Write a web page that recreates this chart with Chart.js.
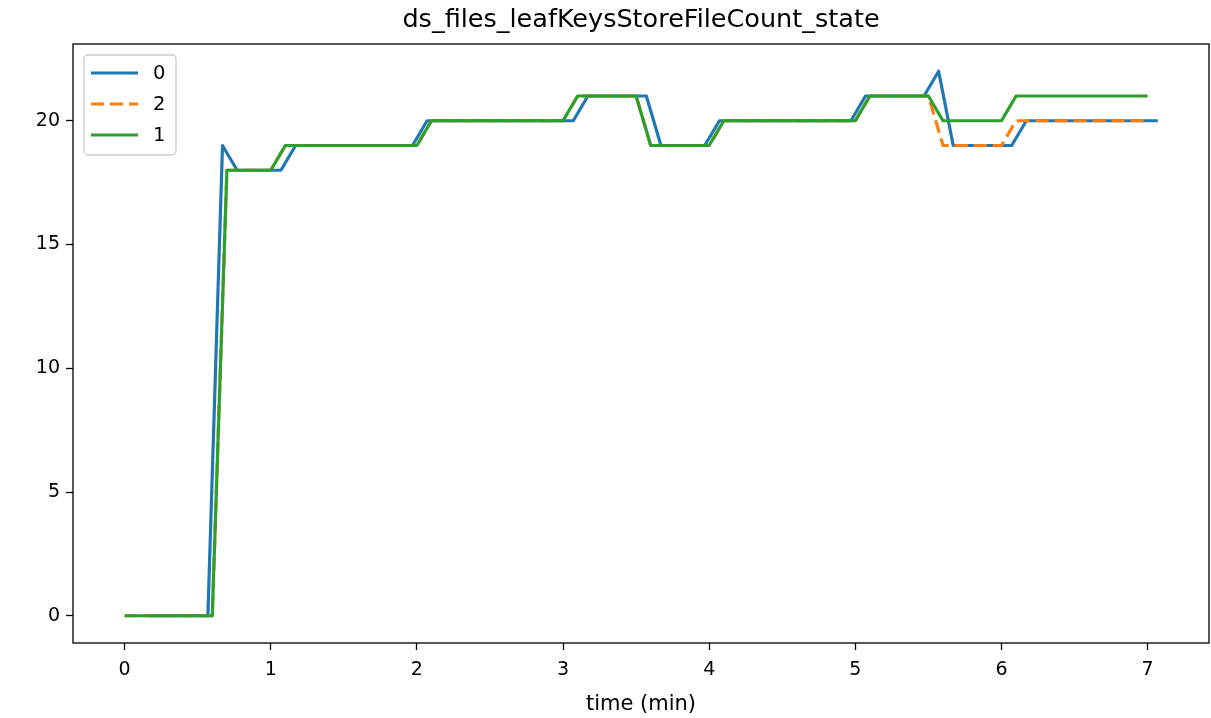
<!DOCTYPE html>
<html>
<head>
<meta charset="utf-8">
<script src="https://cdn.jsdelivr.net/npm/chart.js@4"></script>
<style>
  html, body { margin: 0; padding: 0; background: #fff; }
  #wrap { width: 1211px; height: 718px; }
</style>
</head>
<body>
<div id="wrap"><canvas id="myChart" width="1211" height="718"></canvas></div>
<script>
// series "0" (blue) - corner points
const time0 = [0.17, 0.57, 0.67, 0.77, 1.07, 1.17, 1.97, 2.07, 3.07, 3.17, 3.57, 3.67, 3.97, 4.07, 4.97, 5.07, 5.47, 5.57, 5.67, 6.07, 6.17, 7.07];
const values0 = [0, 0, 19, 18, 18, 19, 19, 20, 20, 21, 21, 19, 19, 20, 20, 21, 21, 22, 19, 19, 20, 20];

// series "2" (orange dashed) and "1" (green) share the same sample times
const time12 = [0, 0.6, 0.7, 1.0, 1.1, 2.0, 2.1, 3.0, 3.1, 3.5, 3.6, 4.0, 4.1, 5.0, 5.1, 5.5, 5.6, 6.0, 6.1, 7.0];
const values2 = [0, 0, 18, 18, 19, 19, 20, 20, 21, 21, 19, 19, 20, 20, 21, 21, 19, 19, 20, 20];
const values1 = [0, 0, 18, 18, 19, 19, 20, 20, 21, 21, 19, 19, 20, 20, 21, 21, 20, 20, 21, 21];

const xTicks = [0, 1, 2, 3, 4, 5, 6, 7];
const yTicks = [0, 5, 10, 15, 20];

const font = 'DejaVu Sans';

function toPoints(xs, ys) {
  return xs.map((x, i) => ({ x: x, y: ys[i] }));
}

// spines on all four sides + matplotlib style legend in the corner
const framePlugin = {
  id: 'frame',
  afterDatasetsDraw(chart) {
    const { ctx, chartArea: a } = chart;
    ctx.save();
    ctx.strokeStyle = '#000';
    ctx.lineWidth = 1.3;
    ctx.strokeRect(a.left, a.top, a.right - a.left, a.bottom - a.top);

    // legend box
    const bx = 84, by = 55, bw = 92, bh = 100, r = 4;
    ctx.beginPath();
    ctx.moveTo(bx + r, by);
    ctx.arcTo(bx + bw, by, bx + bw, by + bh, r);
    ctx.arcTo(bx + bw, by + bh, bx, by + bh, r);
    ctx.arcTo(bx, by + bh, bx, by, r);
    ctx.arcTo(bx, by, bx + bw, by, r);
    ctx.closePath();
    ctx.fillStyle = 'rgba(255,255,255,0.8)';
    ctx.fill();
    ctx.strokeStyle = '#cccccc';
    ctx.lineWidth = 1.3;
    ctx.stroke();

    const rows = [0, 1, 2];
    rows.forEach((di, i) => {
      const ds = chart.data.datasets[di];
      const y = 73 + i * 31;
      ctx.beginPath();
      ctx.setLineDash(ds.borderDash || []);
      ctx.strokeStyle = ds.borderColor;
      ctx.lineWidth = ds.borderWidth;
      ctx.moveTo(91, y);
      ctx.lineTo(138, y);
      ctx.stroke();
      ctx.setLineDash([]);
      ctx.fillStyle = '#000';
      ctx.font = '19.5px "' + font + '"';
      ctx.textBaseline = 'middle';
      ctx.textAlign = 'left';
      ctx.fillText(ds.label, 153, y + 1);
    });
    ctx.restore();
  }
};

const ctx = document.getElementById('myChart').getContext('2d');
const myChart = new Chart(ctx, {
  type: 'line',
  data: {
    datasets: [
      {
        label: '0',
        data: toPoints(time0, values0),
        borderColor: '#1f77b4',
        borderWidth: 3.2,
        order: 2,
      },
      {
        label: '2',
        data: toPoints(time12, values2),
        borderColor: '#ff7f0e',
        borderWidth: 3.2,
        borderDash: [13, 6],
        order: 1,
      },
      {
        label: '1',
        data: toPoints(time12, values1),
        borderColor: '#2ca02c',
        borderWidth: 3.2,
        order: 0,
      },
    ],
  },
  options: {
    responsive: false,
    animation: false,
    devicePixelRatio: 1,
    layout: { padding: { left: 0, right: 2, top: 0, bottom: 0 } },
    elements: {
      point: { radius: 0 },
      line: { tension: 0, borderJoinStyle: 'round', fill: false },
    },
    plugins: {
      legend: { display: false },
      tooltip: { enabled: false },
      title: {
        display: true,
        fullSize: false,
        text: 'ds_files_leafKeysStoreFileCount_state',
        color: '#000',
        font: { family: font, size: 25.5, weight: 'normal', lineHeight: 1.2 },
        padding: { top: 5, bottom: 8.4 },
      },
    },
    scales: {
      x: {
        type: 'linear',
        min: -0.353,
        max: 7.42,
        afterBuildTicks: s => { s.ticks = xTicks.map(v => ({ value: v })); },
        afterFit: s => { s.height = 75; },
        grid: { drawOnChartArea: false, drawTicks: true, tickLength: 7, tickColor: '#000', tickWidth: 1.3 },
        border: { display: false },
        ticks: { color: '#000', font: { family: font, size: 19 }, padding: 9, maxRotation: 0 },
        title: {
          display: true,
          text: 'time (min)',
          color: '#000',
          font: { family: font, size: 21 },
          padding: { top: 0, bottom: 1 },
        },
      },
      y: {
        min: -1.1,
        max: 23.1,
        afterBuildTicks: s => { s.ticks = yTicks.map(v => ({ value: v })); },
        afterFit: s => { s.width = 73; },
        grid: { drawOnChartArea: false, drawTicks: true, tickLength: 7, tickColor: '#000', tickWidth: 1.3 },
        border: { display: false },
        ticks: { color: '#000', font: { family: font, size: 19 }, padding: 6 },
      },
    },
  },
  plugins: [framePlugin],
});
</script>
</body>
</html>
